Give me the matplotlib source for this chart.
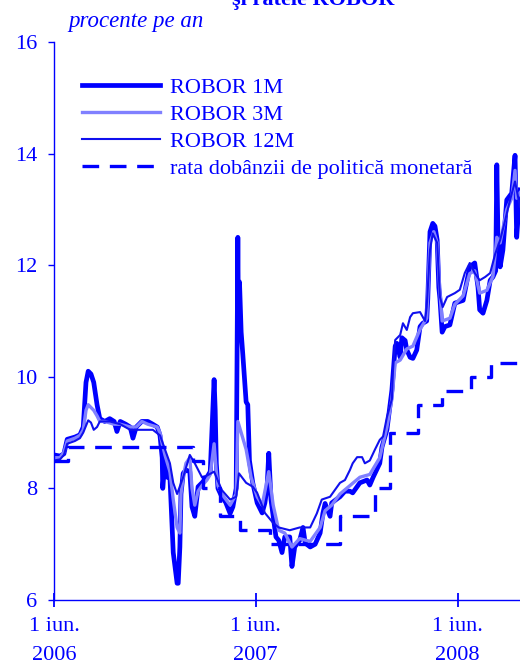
import matplotlib
matplotlib.use('Agg')
import matplotlib.pyplot as plt
import matplotlib.dates as mdates
import pandas as pd

plt.rcParams['font.family'] = ['Liberation Serif', 'DejaVu Serif']

BLUE = '#0000ff'

# ROBOR 1M (date, % p.a.)
robor1m_dates = ['2006-06-01', '2006-06-12', '2006-06-19', '2006-06-25', '2006-07-09', '2006-07-18',
                 '2006-07-24', '2006-07-29', '2006-08-02', '2006-08-07', '2006-08-12', '2006-08-18',
                 '2006-08-23', '2006-09-01', '2006-09-10', '2006-09-18', '2006-09-23', '2006-09-29',
                 '2006-10-09', '2006-10-17', '2006-10-22', '2006-10-28', '2006-11-07', '2006-11-18',
                 '2006-11-27', '2006-12-05', '2006-12-10', '2006-12-14', '2006-12-15', '2006-12-19',
                 '2006-12-23', '2006-12-28', '2007-01-03', '2007-01-10', '2007-01-12', '2007-01-15',
                 '2007-01-17', '2007-01-21', '2007-01-26', '2007-02-02', '2007-02-06', '2007-02-11',
                 '2007-02-17', '2007-02-24', '2007-03-05', '2007-03-11', '2007-03-16', '2007-03-18',
                 '2007-03-20', '2007-03-22', '2007-03-25', '2007-04-01', '2007-04-08', '2007-04-16',
                 '2007-04-21', '2007-04-27', '2007-04-30', '2007-05-01', '2007-05-03', '2007-05-06',
                 '2007-05-09', '2007-05-15', '2007-05-18', '2007-05-21', '2007-05-27', '2007-06-04',
                 '2007-06-13', '2007-06-18', '2007-06-22', '2007-06-25', '2007-06-29', '2007-07-03',
                 '2007-07-08', '2007-07-13', '2007-07-19', '2007-07-24', '2007-08-02', '2007-08-06',
                 '2007-08-11', '2007-08-20', '2007-08-26', '2007-08-30', '2007-09-08', '2007-09-17',
                 '2007-09-26', '2007-10-01', '2007-10-05', '2007-10-10', '2007-10-14', '2007-10-17',
                 '2007-10-25', '2007-11-01', '2007-11-10', '2007-11-19', '2007-11-24', '2007-12-07',
                 '2007-12-20', '2007-12-25', '2007-12-31', '2008-01-12', '2008-01-16', '2008-01-25',
                 '2008-02-03', '2008-02-09', '2008-02-12', '2008-02-18', '2008-02-21', '2008-02-27',
                 '2008-03-01', '2008-03-07', '2008-03-12', '2008-03-19', '2008-03-25', '2008-03-30',
                 '2008-04-06', '2008-04-08', '2008-04-12', '2008-04-17', '2008-04-21', '2008-04-25',
                 '2008-04-28', '2008-04-30', '2008-05-04', '2008-05-09', '2008-05-18', '2008-05-27',
                 '2008-06-11', '2008-06-23', '2008-07-02', '2008-07-08', '2008-07-11', '2008-07-17',
                 '2008-07-24', '2008-07-30', '2008-08-04', '2008-08-09', '2008-08-11', '2008-08-13',
                 '2008-08-17', '2008-08-22', '2008-08-29', '2008-09-07', '2008-09-13', '2008-09-16',
                 '2008-09-22']
robor1m = [8.60, 8.58, 8.62, 8.88, 8.92, 8.96,
           9.10, 9.90, 10.10, 10.05, 9.90, 9.50,
           9.25, 9.20, 9.25, 9.20, 9.02, 9.20,
           9.15, 9.10, 8.90, 9.10, 9.20, 9.20,
           9.15, 9.10, 8.95, 8.55, 8.00, 8.50,
           8.20, 8.20, 6.85, 6.30, 6.30, 6.95,
           7.90, 8.27, 8.33, 8.30, 7.67, 7.50,
           8.03, 8.10, 8.20, 8.30, 9.50, 9.95,
           9.40, 8.45, 8.00, 7.85, 7.75, 7.55,
           7.67, 8.00, 12.50, 11.00, 11.70, 10.80,
           10.40, 9.55, 9.50, 8.50, 8.10, 7.74,
           7.56, 7.74, 8.03, 8.63, 7.80, 7.50,
           7.13, 7.07, 6.85, 7.13, 7.13, 6.60,
           6.95, 7.07, 7.30, 7.02, 6.95, 7.00,
           7.20, 7.55, 7.73, 7.60, 7.50, 7.74,
           7.80, 7.85, 7.95, 7.95, 7.92, 8.10,
           8.15, 8.06, 8.20, 8.45, 8.74, 9.05,
           9.76, 10.55, 10.60, 10.35, 10.70, 10.65,
           10.48, 10.35, 10.33, 10.48, 10.90, 10.96,
           11.00, 11.40, 12.60, 12.75, 12.70, 12.45,
           11.60, 11.40, 10.80, 10.90, 10.93, 11.32,
           11.37, 11.97, 12.04, 11.60, 11.20, 11.14,
           11.37, 11.73, 11.79, 11.90, 13.80, 12.57,
           11.97, 12.27, 13.17, 13.29, 13.97, 12.50,
           13.35]

# ROBOR 3M
robor3m_dates = ['2006-06-01', '2006-06-12', '2006-06-19', '2006-06-25', '2006-07-09', '2006-07-18',
                 '2006-07-24', '2006-07-29', '2006-08-02', '2006-08-07', '2006-08-12', '2006-08-18',
                 '2006-08-23', '2006-09-01', '2006-09-18', '2006-09-29', '2006-10-17', '2006-10-28',
                 '2006-11-07', '2006-11-18', '2006-12-05', '2006-12-10', '2006-12-14', '2006-12-19',
                 '2006-12-28', '2007-01-03', '2007-01-10', '2007-01-15', '2007-01-17', '2007-01-21',
                 '2007-01-26', '2007-02-02', '2007-02-06', '2007-02-11', '2007-02-17', '2007-02-24',
                 '2007-03-05', '2007-03-11', '2007-03-18', '2007-03-22', '2007-03-25', '2007-04-01',
                 '2007-04-16', '2007-04-27', '2007-04-30', '2007-05-06', '2007-05-15', '2007-05-24',
                 '2007-06-04', '2007-06-13', '2007-06-25', '2007-07-03', '2007-07-13', '2007-07-24',
                 '2007-08-06', '2007-08-20', '2007-09-08', '2007-09-26', '2007-10-05', '2007-10-17',
                 '2007-11-01', '2007-11-19', '2007-12-07', '2007-12-25', '2008-01-12', '2008-01-25',
                 '2008-02-03', '2008-02-09', '2008-02-18', '2008-03-01', '2008-03-12', '2008-03-25',
                 '2008-04-06', '2008-04-12', '2008-04-19', '2008-04-25', '2008-04-30', '2008-05-04',
                 '2008-05-18', '2008-05-27', '2008-06-11', '2008-06-23', '2008-07-02', '2008-07-11',
                 '2008-07-24', '2008-08-04', '2008-08-11', '2008-08-17', '2008-08-29', '2008-09-07',
                 '2008-09-13', '2008-09-16', '2008-09-22']
robor3m = [8.55, 8.55, 8.65, 8.85, 8.90, 8.95,
           9.05, 9.40, 9.50, 9.45, 9.40, 9.30,
           9.20, 9.20, 9.15, 9.15, 9.10, 9.10,
           9.20, 9.15, 9.10, 9.00, 8.80, 8.60,
           8.30, 7.80, 7.30, 7.20, 7.90, 8.20,
           8.45, 8.55, 8.00, 7.70, 7.95, 8.05,
           8.15, 8.25, 8.80, 8.30, 8.05, 7.90,
           7.70, 7.90, 9.20, 9.00, 8.70, 8.20,
           7.85, 7.70, 8.30, 7.70, 7.25, 7.20,
           6.95, 7.10, 7.05, 7.30, 7.60, 7.70,
           7.90, 8.05, 8.20, 8.25, 8.55, 9.10,
           9.60, 10.25, 10.30, 10.50, 10.55, 10.85,
           11.05, 12.40, 12.60, 12.40, 11.50, 11.00,
           11.05, 11.30, 11.45, 11.85, 11.90, 11.50,
           11.55, 11.80, 12.50, 12.40, 13.00, 13.20,
           13.70, 13.20, 13.30]

# ROBOR 12M
robor12m_dates = ['2006-06-01', '2006-06-12', '2006-06-19', '2006-06-25', '2006-07-09', '2006-07-18',
                  '2006-07-24', '2006-08-02', '2006-08-07', '2006-08-12', '2006-08-18', '2006-08-23',
                  '2006-09-10', '2006-09-29', '2006-10-17', '2006-11-07', '2006-11-27', '2006-12-10',
                  '2006-12-19', '2006-12-28', '2007-01-03', '2007-01-10', '2007-01-21', '2007-02-02',
                  '2007-02-11', '2007-02-24', '2007-03-05', '2007-03-18', '2007-04-01', '2007-04-16',
                  '2007-04-27', '2007-05-02', '2007-05-15', '2007-05-27', '2007-06-04', '2007-06-18',
                  '2007-07-03', '2007-07-13', '2007-08-02', '2007-08-20', '2007-09-08', '2007-09-20',
                  '2007-09-29', '2007-10-14', '2007-11-01', '2007-11-10', '2007-11-19', '2007-11-24',
                  '2007-12-02', '2007-12-11', '2007-12-16', '2007-12-25', '2008-01-03', '2008-01-12',
                  '2008-01-18', '2008-01-25', '2008-02-03', '2008-02-05', '2008-02-09', '2008-02-18',
                  '2008-02-23', '2008-03-01', '2008-03-07', '2008-03-12', '2008-03-25', '2008-04-03',
                  '2008-04-06', '2008-04-12', '2008-04-17', '2008-04-25', '2008-04-30', '2008-05-05',
                  '2008-05-13', '2008-05-27', '2008-06-05', '2008-06-14', '2008-06-23', '2008-07-02',
                  '2008-07-11', '2008-07-21', '2008-07-30', '2008-08-08', '2008-08-17', '2008-08-26',
                  '2008-09-04', '2008-09-13', '2008-09-22']
robor12m = [8.50, 8.52, 8.60, 8.80, 8.85, 8.90,
            9.00, 9.22, 9.18, 9.05, 9.10, 9.20,
            9.20, 9.15, 9.05, 9.05, 9.05, 8.95,
            8.70, 8.45, 8.10, 7.90, 8.20, 8.60,
            8.45, 8.20, 8.23, 8.30, 7.97, 7.80,
            7.85, 8.27, 8.10, 8.03, 7.92, 7.56,
            7.38, 7.30, 7.25, 7.30, 7.30, 7.55,
            7.80, 7.85, 8.10, 8.15, 8.33, 8.45,
            8.56, 8.56, 8.45, 8.50, 8.69, 8.87,
            8.93, 9.28, 9.60, 10.12, 10.66, 10.75,
            10.96, 10.84, 11.07, 11.14, 11.16, 11.00,
            11.25, 12.27, 12.57, 12.40, 11.43, 11.25,
            11.43, 11.50, 11.56, 11.86, 12.04, 11.86,
            11.73, 11.79, 11.86, 12.20, 12.45, 12.80,
            13.17, 13.50, 13.05]

# rata dobanzii de politica monetara (steps)
policy_dates = ['2006-06-01', '2006-06-26', '2007-02-08', '2007-02-26', '2007-03-29', '2007-05-03',
                '2007-06-27', '2007-11-01', '2008-01-03', '2008-01-30', '2008-03-22', '2008-05-04',
                '2008-06-25', '2008-07-31', '2008-09-22']
policy = [8.50, 8.75, 8.50, 8.00, 7.50, 7.25,
          7.00, 7.50, 8.00, 9.00, 9.50, 9.75,
          10.00, 10.25, 10.25]

xtick_dates = ['2006-06-01', '2007-06-01', '2008-06-01']
xtick_labels = ['1 iun.\n2006', '1 iun.\n2007', '1 iun.\n2008']

fig = plt.figure(figsize=(5.2, 6.64), dpi=100)
ax = fig.add_axes([0.1038, 0.0964, 0.8962, 0.8403])

ax.plot(pd.to_datetime(robor1m_dates), robor1m, color=BLUE, lw=3.4, label='ROBOR 1M',
        solid_joinstyle='round')
ax.plot(pd.to_datetime(robor3m_dates), robor3m, color='#8080ff', lw=2.4, label='ROBOR 3M')
ax.plot(pd.to_datetime(robor12m_dates), robor12m, color='#1010ee', lw=1.5, label='ROBOR 12M')
ax.plot(pd.to_datetime(policy_dates), policy, color=BLUE, lw=2.4, drawstyle='steps-post',
        dashes=(5, 3.2), label='rata dobânzii de politică monetară')

ax.set_xlim(pd.Timestamp('2006-06-01'), pd.Timestamp('2008-09-22'))
ax.set_ylim(6, 16)
ax.set_yticks([6, 8, 10, 12, 14, 16])
ax.set_xticks(pd.to_datetime(xtick_dates))
ax.set_xticklabels(xtick_labels, linespacing=1.75)

for s in ['top', 'right']:
    ax.spines[s].set_visible(False)
for s in ['left', 'bottom']:
    ax.spines[s].set_color(BLUE)
    ax.spines[s].set_linewidth(1.0)

ax.tick_params(axis='y', direction='out', length=4, width=1, color=BLUE,
               labelcolor=BLUE, labelsize=16, pad=8)
ax.tick_params(axis='x', direction='inout', length=10, width=1.3, color=BLUE,
               labelcolor=BLUE, labelsize=16, pad=7)

leg = ax.legend(loc='upper left', bbox_to_anchor=(0.158, 0.884), bbox_transform=fig.transFigure,
                frameon=False, fontsize=16, handlelength=3.5, handletextpad=0.45,
                labelspacing=0.3, borderpad=0, borderaxespad=0)
for t in leg.get_texts():
    t.set_color(BLUE)

fig.text(0.131, 0.96, 'procente pe an', color=BLUE, fontsize=16.5, style='italic')
fig.text(0.602, 0.993, 'şi ratele ROBOR', color=BLUE, fontsize=16, fontweight='bold',
         ha='center', va='baseline')

fig.savefig('out.png', dpi=100)
